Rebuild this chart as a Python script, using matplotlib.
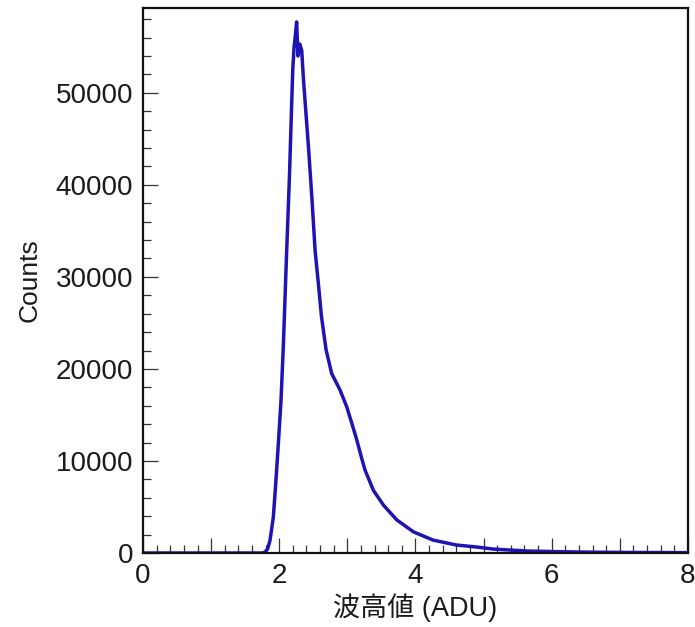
import matplotlib
matplotlib.use('Agg')
import matplotlib.pyplot as plt
from matplotlib.ticker import MultipleLocator, FuncFormatter

# pulse height spectrum (ADU vs counts)
adu = [0.0, 1.0, 1.75, 1.79, 1.83, 1.865, 1.913, 1.948, 1.987, 2.026, 2.06, 2.11,
       2.15, 2.175, 2.198, 2.217, 2.24, 2.255, 2.275, 2.30, 2.33, 2.355, 2.39,
       2.43, 2.48, 2.526, 2.574, 2.62, 2.687, 2.77, 2.893, 2.99, 3.065, 3.138,
       3.21, 3.26, 3.383, 3.53, 3.725, 3.97, 4.26, 4.6, 4.9, 5.14, 5.63, 6.12,
       6.6, 7.2, 8.0]
counts = [0, 0, 0, 100, 450, 1400, 3900, 7500, 11900, 16600, 22500, 33000,
          41000, 47000, 52500, 54900, 56500, 57700, 54000, 55300, 54600, 51500, 48000,
          44000, 38500, 32900, 29300, 25700, 22100, 19500, 17700, 15900, 14100, 12300,
          10300, 9000, 6800, 5200, 3600, 2300, 1400, 870, 650, 430, 220, 140,
          90, 60, 40]

plt.rcParams['font.family'] = ['Liberation Sans', 'Noto Sans CJK JP']

fig = plt.figure(figsize=(6.95, 6.27), dpi=100)
ax = fig.add_axes([0.2058, 0.118, 0.784, 0.869])

ax.plot(adu, counts, color='#1e14b4', linewidth=2.5, solid_joinstyle='round')

ax.set_xlim(0, 8)
ax.set_ylim(0, 59200)

ax.xaxis.set_major_locator(MultipleLocator(1))
ax.xaxis.set_minor_locator(MultipleLocator(0.2))
ax.xaxis.set_major_formatter(FuncFormatter(lambda v, p: '%d' % v if int(round(v)) % 2 == 0 else ''))
ax.yaxis.set_major_locator(MultipleLocator(10000))
ax.yaxis.set_minor_locator(MultipleLocator(2000))

ax.tick_params(which='both', direction='in', top=False, right=False, width=0.9, colors='#333333')
ax.tick_params(which='major', length=11, labelsize=20, labelcolor='#1a1a1a')
ax.tick_params(axis='y', which='major', pad=7)
ax.tick_params(axis='x', which='major', pad=7)
ax.tick_params(which='minor', length=5.5)

for s in ax.spines.values():
    s.set_linewidth(1.6)
    s.set_color('#111111')

ax.set_ylabel('Counts', fontsize=19, labelpad=10, color='#1a1a1a')
ax.set_xlabel('波高値 (ADU)', fontsize=19.5, labelpad=3, color='#1a1a1a')

fig.savefig('out.png', dpi=100)
